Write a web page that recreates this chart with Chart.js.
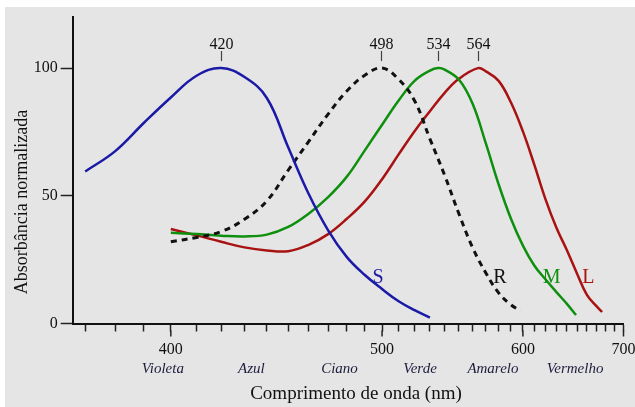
<!DOCTYPE html>
<html>
<head>
<meta charset="utf-8">
<script src="https://cdn.jsdelivr.net/npm/chart.js@4.4.1/dist/chart.umd.min.js"></script>
<style>
  html, body { margin: 0; padding: 0; background: #fff; }
</style>
</head>
<body>
<canvas id="chart" width="635" height="407"></canvas>
<script>
// wavelengths (nm) and normalized absorbance
const sNm  = [370, 380, 390, 400, 410, 420, 430, 440, 450, 460, 470, 480, 490, 500, 510, 520, 530];
const sVal = [59.5, 67.5, 78.5, 88.5, 97, 100, 96.5, 88.3, 69, 50.8, 36.5, 26, 19, 13.5, 8.7, 5.2, 2.3];

const rNm  = [400, 410, 420, 430, 440, 450, 460, 470, 480, 490, 500, 510, 520, 530, 540, 550, 560, 570, 580, 590, 598];
const rVal = [32, 33.7, 36, 40.8, 48, 60, 71.2, 82, 91, 97.2, 100, 95.6, 87.2, 72.3, 58, 43, 29.7, 19.8, 12, 7.3, 5];

const mNm  = [400, 410, 420, 430, 440, 450, 460, 470, 480, 490, 500, 510, 520, 530, 535.5, 540, 550, 560, 570, 580, 590, 600, 610, 620, 630, 640, 649];
const mVal = [35.5, 35, 34.4, 34.1, 34.8, 37.8, 43, 49.5, 57.5, 67.8, 77.8, 87.3, 95, 99, 100, 99.4, 95.5, 86, 70.5, 54.5, 41, 30.5, 22.6, 17.2, 12.3, 7.7, 3.3];

const lNm  = [400, 410, 420, 430, 440, 450, 460, 470, 480, 490, 500, 510, 520, 530, 540, 550, 564, 570, 580, 590, 600, 610, 620, 630, 640, 650, 660, 670, 676];
const lVal = [37, 34.5, 32, 29.8, 28.6, 28.3, 30.8, 35, 41, 47.8, 56.5, 66.2, 75.3, 83.1, 90.3, 95.8, 100, 98.7, 95, 86.5, 75.2, 62, 48.5, 37.5, 28.7, 19.5, 11.2, 6.8, 4.5];

const tickNm = [370, 380, 390, 400, 410, 420, 430, 440, 450, 460, 470, 480, 490, 500, 510, 520, 530, 540, 550,
                560, 570, 580, 590, 600, 610, 620, 630, 640, 650, 660, 670, 680, 690, 700];
const xTickLabels = [400, 500, 600, 700];
const yTicks = [0, 50, 100];

const peakText = ['420', '498', '534', '564'];
const peakNm = [420, 499.5, 535.5, 564];

const bandNames = ['Violeta', 'Azul', 'Ciano', 'Verde', 'Amarelo', 'Vermelho'];
const bandNm = [397, 433, 476, 523.5, 575.5, 648];

const curveNames = ['S', 'R', 'M', 'L'];
const curveNameNm = [497.6, 581, 625.6, 661.4];

const SERIF = '"Liberation Serif", "DejaVu Serif", serif';
const BLUE = '#1a1aa6', BLACK = '#111', GREEN = '#0e900e', RED = '#a81212';

// x axis is linear in 1/wavelength (frequency), like the original figure
class WavelengthScale extends Chart.LinearScale {
  static id = 'wavelength';
  getPixelForValue(value) {
    if (value === null || value === undefined) return NaN;
    const a = 1 / this.min, b = 1 / this.max;
    return this.getPixelForDecimal((a - 1 / value) / (a - b));
  }
  getValueForPixel(pixel) {
    const a = 1 / this.min, b = 1 / this.max;
    const d = this.getDecimalForPixel(pixel);
    return 1 / (a - d * (a - b));
  }
}
Chart.register(WavelengthScale);

const pts = (xs, ys) => xs.map((v, i) => ({ x: v, y: ys[i] }));

const overlay = {
  id: 'overlay',
  beforeDraw(chart) {
    const ctx = chart.ctx;
    ctx.save();
    ctx.fillStyle = '#e5e5e5';
    ctx.fillRect(5, 7, chart.width - 5, chart.height - 7);
    ctx.restore();
  },
  afterDraw(chart) {
    const { ctx, chartArea } = chart;
    const x = chart.scales.x, y = chart.scales.y;
    ctx.save();

    // longer ticks for the labelled wavelengths
    ctx.strokeStyle = '#222';
    ctx.lineWidth = 1.5;
    xTickLabels.forEach(nm => {
      const px = x.getPixelForValue(nm);
      ctx.beginPath();
      ctx.moveTo(px, chartArea.bottom + 7);
      ctx.lineTo(px, chartArea.bottom + 13);
      ctx.stroke();
    });

    // peak markers
    ctx.font = '16px ' + SERIF;
    ctx.fillStyle = BLACK;
    ctx.textAlign = 'center';
    ctx.textBaseline = 'alphabetic';
    ctx.strokeStyle = '#444';
    ctx.lineWidth = 1.2;
    peakNm.forEach((nm, i) => {
      const px = Math.round(x.getPixelForValue(nm)) + 0.5;
      ctx.fillText(peakText[i], px, 49);
      ctx.beginPath();
      ctx.moveTo(px, 51);
      ctx.lineTo(px, y.getPixelForValue(100) - 7);
      ctx.stroke();
    });

    // curve names
    ctx.font = '20px ' + SERIF;
    [BLUE, BLACK, GREEN, RED].forEach((c, i) => {
      ctx.fillStyle = c;
      ctx.fillText(curveNames[i], x.getPixelForValue(curveNameNm[i]), y.getPixelForValue(16));
    });

    // colour band names
    ctx.font = 'italic 15px ' + SERIF;
    ctx.fillStyle = '#1c1c3c';
    bandNames.forEach((t, i) => ctx.fillText(t, x.getPixelForValue(bandNm[i]), 373));

    // axis titles
    ctx.fillStyle = BLACK;
    ctx.font = '19px ' + SERIF;
    ctx.fillText('Comprimento de onda (nm)', 356, 399);

    ctx.font = '18px ' + SERIF;
    ctx.translate(22, 202);
    ctx.rotate(-Math.PI / 2);
    ctx.textBaseline = 'middle';
    ctx.fillText('Absorbância normalizada', 0, 0);
    ctx.restore();
  }
};

new Chart(document.getElementById('chart'), {
  type: 'line',
  data: {
    datasets: [
      { label: 'S', data: pts(sNm, sVal), borderColor: BLUE, borderWidth: 2.5 },
      { label: 'R', data: pts(rNm, rVal), borderColor: BLACK, borderWidth: 3, borderDash: [6, 5] },
      { label: 'M', data: pts(mNm, mVal), borderColor: GREEN, borderWidth: 2.5 },
      { label: 'L', data: pts(lNm, lVal), borderColor: RED, borderWidth: 2.5 },
    ],
  },
  options: {
    responsive: false,
    animation: false,
    layout: { padding: { top: 17, right: 11.5, bottom: 0, left: 0 } },
    elements: {
      point: { radius: 0 },
      line: { tension: 0.4, fill: false },
    },
    plugins: {
      legend: { display: false },
      tooltip: { enabled: false },
    },
    scales: {
      x: {
        type: 'wavelength',
        min: 366,
        max: 700,
        afterBuildTicks: s => { s.ticks = tickNm.map(v => ({ value: v })); },
        afterFit: s => { s.height = 83.5; s.paddingLeft = 0; s.paddingRight = 0; },
        grid: { drawOnChartArea: false, tickLength: 8, tickColor: '#222', tickWidth: 1.5 },
        border: { color: '#111', width: 2 },
        ticks: {
          autoSkip: false,
          maxRotation: 0,
          padding: 9,
          color: BLACK,
          font: { family: SERIF, size: 16 },
          callback: v => (xTickLabels.includes(v) ? String(v) : ''),
        },
      },
      y: {
        min: 0,
        max: 120,
        afterBuildTicks: s => { s.ticks = yTicks.map(v => ({ value: v })); },
        afterFit: s => { s.width = 72.7; s.paddingTop = 0; s.paddingBottom = 0; },
        grid: { drawOnChartArea: false, tickLength: 12, tickColor: '#222', tickWidth: 1.5 },
        border: { color: '#111', width: 2 },
        ticks: {
          padding: 3,
          color: BLACK,
          font: { family: SERIF, size: 16 },
        },
      },
    },
  },
  plugins: [overlay],
});
</script>
</body>
</html>
